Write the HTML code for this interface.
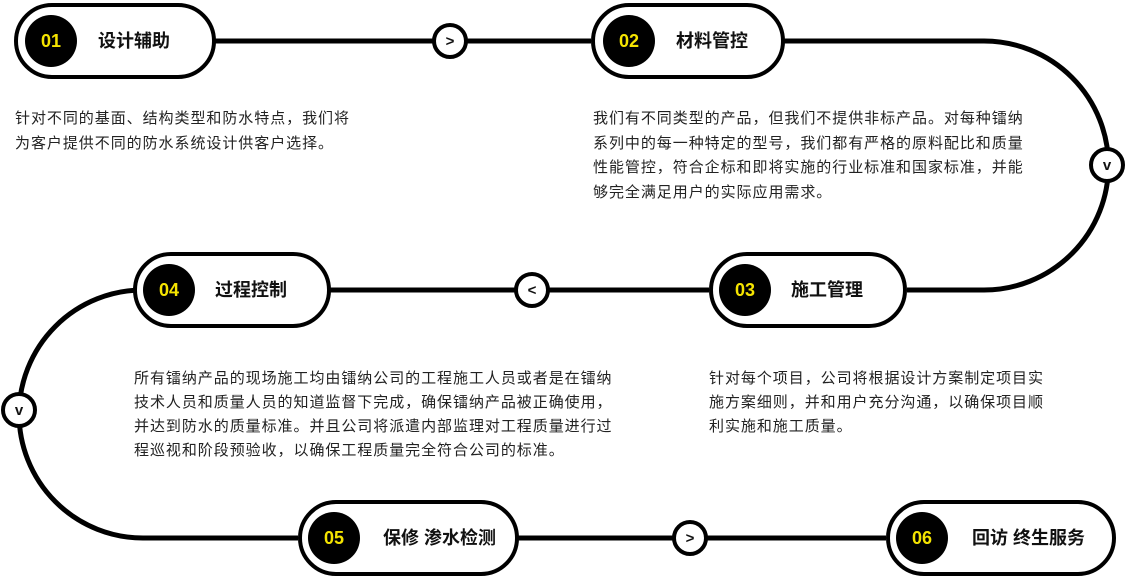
<!DOCTYPE html>
<html><head><meta charset="utf-8"><style>
html,body{margin:0;padding:0;background:#fff;width:1128px;height:577px;overflow:hidden}
svg{display:block}
.t{font-family:"Liberation Sans","Noto Sans CJK SC",sans-serif;font-size:15px;letter-spacing:0.95px;fill:#222}
.n{font-family:"Liberation Sans",sans-serif;font-weight:bold;font-size:18px;fill:#f5e400}
.h{font-family:"Liberation Sans","Noto Sans CJK SC",sans-serif;font-weight:bold;font-size:18px;fill:#111}
.a{font-family:"Liberation Sans",sans-serif;font-size:15px;font-weight:bold;fill:#111}
</style></head><body>
<svg width="1128" height="577" viewBox="0 0 1128 577" xmlns="http://www.w3.org/2000/svg">
<g fill="none" stroke="#000" stroke-width="5">
<path d="M215 41 H591"/>
<path d="M784 41 H984 A124.5 124.5 0 0 1 984 290 H907"/>
<path d="M330 290 H709"/>
<path d="M133 290 H143 A124 124 0 0 0 143 538 H298"/>
<path d="M518 538 H886"/>
</g>
<g fill="#fff" stroke="#000" stroke-width="4">
<rect x="16" y="5" width="198" height="72" rx="36"/>
<rect x="593" y="5" width="190" height="72" rx="36"/>
<rect x="711" y="254" width="194" height="72" rx="36"/>
<rect x="135" y="254" width="194" height="72" rx="36"/>
<rect x="300" y="502" width="217" height="72" rx="36"/>
<rect x="888" y="502" width="226" height="72" rx="36"/>
<circle cx="450" cy="41" r="16"/>
<circle cx="1107" cy="165" r="16"/>
<circle cx="532" cy="290" r="16"/>
<circle cx="19" cy="410" r="16"/>
<circle cx="690" cy="538" r="16"/>
</g>
<g fill="#000">
<circle cx="51" cy="41" r="26"/>
<circle cx="629" cy="41" r="26"/>
<circle cx="745" cy="290" r="26"/>
<circle cx="169" cy="290" r="26"/>
<circle cx="334" cy="538" r="26"/>
<circle cx="922" cy="538" r="26"/>
</g>
<g text-anchor="middle">
<text class="n" x="51" y="47">01</text>
<text class="n" x="629" y="47">02</text>
<text class="n" x="745" y="296">03</text>
<text class="n" x="169" y="296">04</text>
<text class="n" x="334" y="544">05</text>
<text class="n" x="922" y="544">06</text>
<text class="a" x="450" y="46">&gt;</text>
<text class="a" x="1107" y="170">v</text>
<text class="a" x="532" y="295">&lt;</text>
<text class="a" x="19" y="415">v</text>
<text class="a" x="690" y="543">&gt;</text>
</g>
<text class="h" x="98" y="47">设计辅助</text>
<text class="h" x="676" y="47">材料管控</text>
<text class="h" x="791" y="296">施工管理</text>
<text class="h" x="215" y="296">过程控制</text>
<text class="h" x="383" y="544">保修 渗水检测</text>
<text class="h" x="972" y="544">回访 终生服务</text>
<text class="t" x="15" y="123">针对不同的基面、结构类型和防水特点，我们将</text>
<text class="t" x="15" y="148">为客户提供不同的防水系统设计供客户选择。</text>
<text class="t" x="593" y="123">我们有不同类型的产品，但我们不提供非标产品。对每种镭纳</text>
<text class="t" x="593" y="148">系列中的每一种特定的型号，我们都有严格的原料配比和质量</text>
<text class="t" x="593" y="172">性能管控，符合企标和即将实施的行业标准和国家标准，并能</text>
<text class="t" x="593" y="197">够完全满足用户的实际应用需求。</text>
<text class="t" x="134" y="383">所有镭纳产品的现场施工均由镭纳公司的工程施工人员或者是在镭纳</text>
<text class="t" x="134" y="407">技术人员和质量人员的知道监督下完成，确保镭纳产品被正确使用，</text>
<text class="t" x="134" y="431">并达到防水的质量标准。并且公司将派遣内部监理对工程质量进行过</text>
<text class="t" x="134" y="455">程巡视和阶段预验收，以确保工程质量完全符合公司的标准。</text>
<text class="t" x="709" y="383">针对每个项目，公司将根据设计方案制定项目实</text>
<text class="t" x="709" y="407">施方案细则，并和用户充分沟通，以确保项目顺</text>
<text class="t" x="709" y="431">利实施和施工质量。</text>
</svg>
</body></html>
